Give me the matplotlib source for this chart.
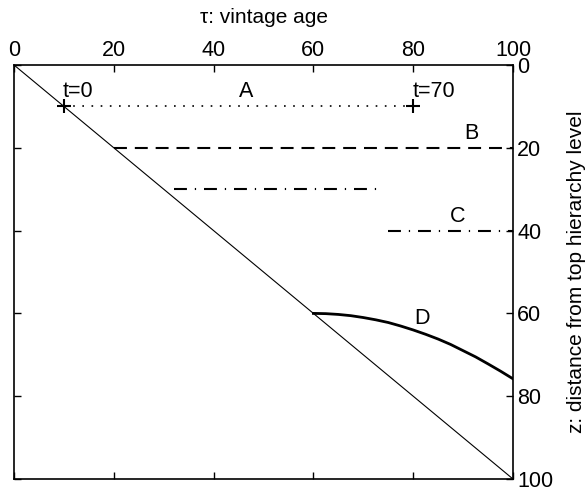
import matplotlib.pyplot as plt

plt.rcParams['font.family'] = ['Liberation Sans', 'DejaVu Sans']

# diagonal tau = z
diag_x = [0, 100]
diag_z = [0, 100]

# A: dotted, from t=0 to t=70
a_x = [10, 80]
a_z = [10, 10]
# B: dashed
b_x = [20, 100]
b_z = [20, 20]
# unlabeled dash-dot
e_x = [32, 74]
e_z = [30, 30]
# C: dash-dot
c_x = [75, 100]
c_z = [40, 40]
# D: curve
d_x = [60, 62.5, 65, 67.5, 70, 72.5, 75, 77.5, 80, 82.5, 85, 87.5, 90, 92.5, 95, 97.5, 100]
d_z = [60, 60.06, 60.25, 60.55, 61, 61.55, 62.2, 63.05, 64, 65.05, 66.2, 67.5, 69,
       70.5, 72.2, 73.95, 75.8]

ticks = [0, 20, 40, 60, 80, 100]

fig = plt.figure(figsize=(5.85, 4.87), dpi=100)
ax = fig.add_axes([14 / 585, 1 - 479 / 487, 499 / 585, 414 / 487])

ax.plot(diag_x, diag_z, color='black', lw=0.8)
ax.plot(a_x, a_z, color='black', lw=1.2, linestyle=(0, (1, 4.5)))
ax.plot(a_x, a_z, '+', color='black', ms=10, mew=1.5)
ax.plot(b_x, b_z, color='black', lw=1.5, linestyle=(0, (6.2, 3.8)))
ax.plot(e_x, e_z, color='black', lw=1.5, linestyle=(0, (6.2, 3.8, 0.6, 3.8)))
ax.plot(c_x, c_z, color='black', lw=1.5, linestyle=(0, (6.2, 3.8, 0.6, 3.8)))
ax.plot(d_x, d_z, color='black', lw=2)

fs = 15.5
ax.text(9.8, 6.5, 't=0', fontsize=fs, va='center', ha='left')
ax.text(46.5, 6.5, 'A', fontsize=fs, va='center', ha='center')
ax.text(79.8, 6.5, 't=70', fontsize=fs, va='center', ha='left')
ax.text(91.6, 16.5, 'B', fontsize=fs, va='center', ha='center')
ax.text(89, 36.6, 'C', fontsize=fs, va='center', ha='center')
ax.text(81.7, 61.2, 'D', fontsize=fs, va='center', ha='center')

ax.set_xlim(0, 100)
ax.set_ylim(100, 0)
ax.set_xticks(ticks)
ax.set_yticks(ticks)
ax.xaxis.tick_top()
ax.yaxis.tick_right()
ax.tick_params(direction='in', length=5, width=1, labelsize=fs,
               top=True, bottom=True, left=True, right=True,
               labeltop=True, labelbottom=False, labelleft=False, labelright=True,
               pad=3)
ax.xaxis.set_label_position('top')
ax.yaxis.set_label_position('right')
ax.set_xlabel('τ: vintage age', fontsize=15, labelpad=12)
ax.set_ylabel('z: distance from top hierarchy level', fontsize=15, labelpad=10)
for s in ax.spines.values():
    s.set_linewidth(1.2)

fig.savefig('out.png', dpi=100)
